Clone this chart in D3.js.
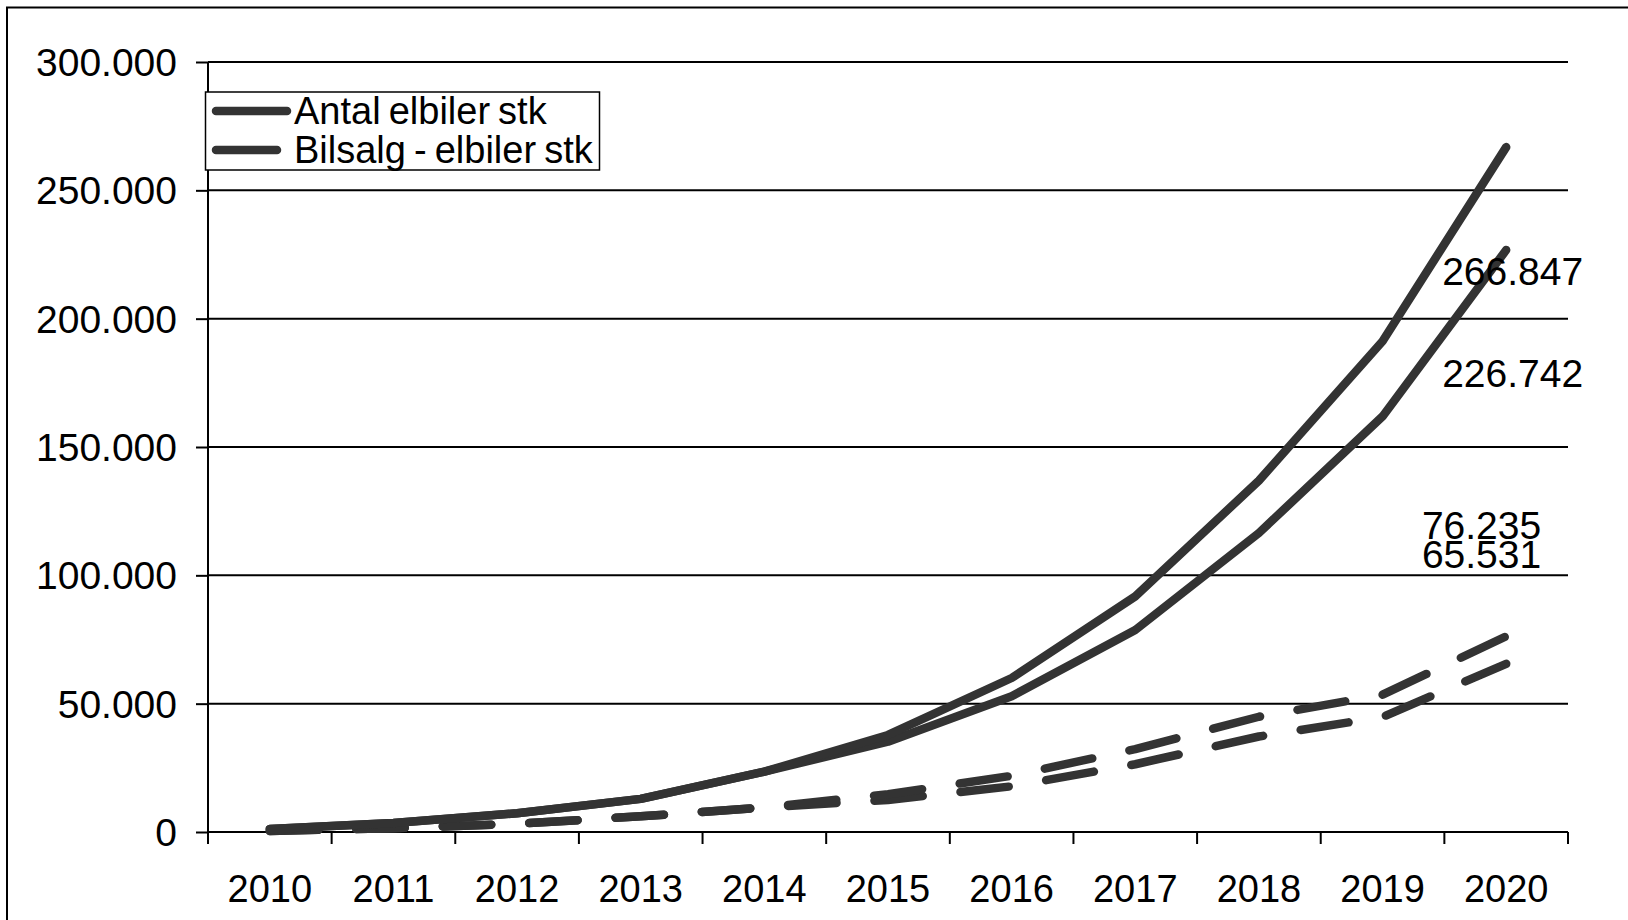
<!DOCTYPE html>
<html>
<head>
<meta charset="utf-8">
<script src="https://cdn.jsdelivr.net/npm/d3@7"></script>
<style>
  html, body { margin: 0; padding: 0; background: #fff; }
  svg { display: block; }
  text { font-family: "Liberation Sans", Arial, sans-serif; fill: #000; }
</style>
</head>
<body>
<svg id="chart" width="1628" height="920"></svg>
<script>
// Years on the category axis
const years = ["2010", "2011", "2012", "2013", "2014", "2015", "2016", "2017", "2018", "2019", "2020"];

// Number of electric cars (stock), two projections
const antalHigh = [1200, 3500, 7300, 12900, 23500, 37800, 60000, 91800, 136900, 191200, 266847];
const antalLow  = [1200, 3500, 7300, 12900, 23500, 35200, 52900, 78700, 116500, 161900, 226742];

// Electric car sales, two projections
const salgHigh = [400, 1500, 3200, 6100, 9600, 14700, 21900, 32300, 44900, 53500, 76235];
const salgLow  = [400, 1500, 3200, 6100, 9600, 12500, 17800, 26400, 37200, 44800, 65531];

// Value axis ticks
const yTicks = [0, 50000, 100000, 150000, 200000, 250000, 300000];

// Legend entries
const legendNames = ["Antal elbiler stk", "Bilsalg - elbiler stk"];

const svg = d3.select("#chart");
const W = 1628, H = 920;
const plot = { left: 208, right: 1568, top: 62, bottom: 832 };
const ink = "#333333";
const dash = "48.5,38";

const da = d3.formatLocale({ decimal: ",", thousands: ".", grouping: [3], currency: ["", ""] });
const fmt = da.format(",d");

const x = d3.scaleBand().domain(years).range([plot.left, plot.right]).padding(0);
const xc = d => x(d) + x.bandwidth() / 2;
const y = d3.scaleLinear().domain([0, 300000]).range([plot.bottom, plot.top]);

// Outer frame (right and bottom edges fall outside the page)
svg.append("rect")
  .attr("x", 7).attr("y", 7.5).attr("width", W + 20).attr("height", H + 20)
  .attr("fill", "none").attr("stroke", "#000").attr("stroke-width", 2);

// Horizontal gridlines
svg.append("g").selectAll("line").data(yTicks.slice(1)).join("line")
  .attr("x1", plot.left).attr("x2", plot.right)
  .attr("y1", d => y(d)).attr("y2", d => y(d))
  .attr("stroke", "#000").attr("stroke-width", 2);

// Value axis
const yAxis = svg.append("g")
  .attr("transform", `translate(${plot.left},0)`)
  .call(d3.axisLeft(y).tickValues(yTicks).tickSize(12).tickPadding(19).tickFormat(fmt));
yAxis.select(".domain").attr("stroke", "#000").attr("stroke-width", 2)
  .attr("d", `M0,${plot.top}V${plot.bottom}`);
yAxis.selectAll(".tick line").attr("stroke", "#000").attr("stroke-width", 2);
yAxis.selectAll(".tick text")
  .attr("font-family", "Liberation Sans, Arial, sans-serif")
  .attr("font-size", 39).attr("fill", "#000").attr("dy", "0.35em");

// Category axis: ticks between categories, labels centred in each band
const xAxis = svg.append("g");
xAxis.append("line")
  .attr("x1", plot.left).attr("x2", plot.right)
  .attr("y1", plot.bottom).attr("y2", plot.bottom)
  .attr("stroke", "#000").attr("stroke-width", 2);
const boundaries = years.map(d => x(d)).concat([x.range()[1]]);
xAxis.selectAll("line.tk").data(boundaries).join("line")
  .attr("class", "tk")
  .attr("x1", d => d).attr("x2", d => d)
  .attr("y1", plot.bottom).attr("y2", plot.bottom + 12)
  .attr("stroke", "#000").attr("stroke-width", 2);
xAxis.selectAll("text").data(years).join("text")
  .attr("x", d => xc(d)).attr("y", 902)
  .attr("text-anchor", "middle").attr("font-size", 38)
  .text(d => d);

// Series lines
const line = d3.line().x((d, i) => xc(years[i])).y(d => y(d));
const series = [
  { values: salgLow, dashed: true },
  { values: salgHigh, dashed: true },
  { values: antalLow, dashed: false },
  { values: antalHigh, dashed: false }
];
svg.append("g").selectAll("path").data(series).join("path")
  .attr("d", d => line(d.values))
  .attr("fill", "none").attr("stroke", ink).attr("stroke-width", 8.5)
  .attr("stroke-linecap", "round").attr("stroke-linejoin", "round")
  .attr("stroke-dasharray", d => d.dashed ? dash : null);

// End-of-series value labels
const last = years.length - 1;
const labels = [
  { v: antalHigh[last], dx: -64, dy: 138, anchor: "start" },
  { v: antalLow[last],  dx: -64, dy: 137, anchor: "start" },
  { v: salgHigh[last],  dx: 35,  dy: -97, anchor: "end" },
  { v: salgLow[last],   dx: 35,  dy: -96, anchor: "end" }
];
svg.append("g").selectAll("text").data(labels).join("text")
  .attr("x", d => xc(years[last]) + d.dx)
  .attr("y", d => y(d.v) + d.dy)
  .attr("text-anchor", d => d.anchor)
  .attr("font-size", 39)
  .text(d => fmt(d.v));

// Legend
const lg = svg.append("g");
lg.append("rect")
  .attr("x", 205.5).attr("y", 92).attr("width", 394).attr("height", 78)
  .attr("fill", "#fff").attr("stroke", "#000").attr("stroke-width", 1.5);
const legendRows = [
  { name: legendNames[0], dashed: false, ly: 111, ty: 124, x2: 287 },
  { name: legendNames[1], dashed: true,  ly: 150, ty: 163, x2: 277 }
];
legendRows.forEach(r => {
  lg.append("line")
    .attr("x1", 216).attr("x2", r.x2).attr("y1", r.ly).attr("y2", r.ly)
    .attr("stroke", ink).attr("stroke-width", 8.5).attr("stroke-linecap", "round");
  lg.append("text")
    .attr("x", 294).attr("y", r.ty)
    .attr("font-size", 38).attr("word-spacing", "-2.5px")
    .text(r.name);
});
</script>
</body>
</html>
